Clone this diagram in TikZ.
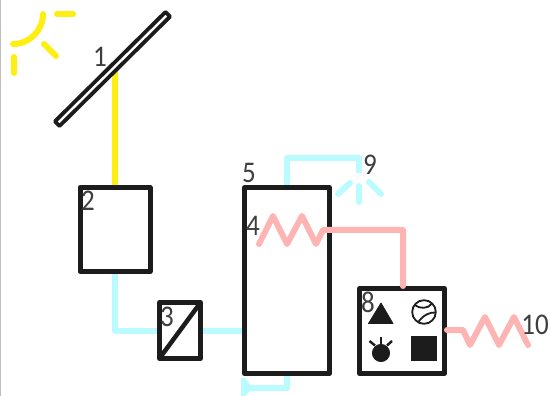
\documentclass[tikz,border=0pt]{standalone}
\usepackage{fontspec}
\setmainfont[FakeStretch=0.9]{Carlito}
\definecolor{ink}{HTML}{1C1C1C}
\definecolor{sunc}{HTML}{FFEE12}
\definecolor{cyanc}{HTML}{B9FBFF}
\definecolor{pinkc}{HTML}{FFB4B4}
\tikzset{
  box/.style={draw=ink,line width=5pt,rectangle,inner sep=0pt,line join=round},
  panelbox/.style={draw=ink,line width=3.8pt,rectangle,inner sep=0pt,line join=round},
  lab/.style={text=ink!85,font=\fontsize{30}{30}\selectfont,inner sep=0pt},
  sunline/.style={draw=sunc,line width=6pt,line cap=round},
  sunwire/.style={draw=sunc,line width=6pt},
  heatwire/.style={draw=pinkc,line width=6pt,line join=round},
  elecwire/.style={draw=cyanc,line width=6pt,line join=round},
  elecray/.style={draw=cyanc,line width=6pt,line cap=round},
  sym/.style={fill=ink,draw=ink,line width=0.8pt,line join=round},
}
\begin{document}
\begin{tikzpicture}[x=1pt,y=-1pt]
\useasboundingbox (0,0) rectangle (550,396);
\fill[white] (0,0) rectangle (550,396);
\fill[black!25] (0,0) rectangle (1,396);
% sun
\draw[sunline] (43,14) arc[start angle=0,end angle=90,radius=30];
\draw[sunline] (57,14) -- (73,14);
\draw[sunline] (44,44) -- (56,56);
\draw[sunline] (14,57) -- (14,73);
% connectors behind the panel
\coordinate (panelfoot) at (115,70);
% components
\node[box,minimum width=70pt,minimum height=84pt] (inv) at (115,229.5) {};
\draw[sunwire] (inv.north) -- (panelfoot);
\node[panelbox,fill=white,minimum width=155.5pt,minimum height=6.5pt,rotate=44.7] (panel) at (112.5,69) {};
\node[box,minimum width=41pt,minimum height=56pt] (conv) at (180,330.5) {};
\node[box,minimum width=85pt,minimum height=186pt] (tank) at (287,280.5) {};
\node[box,minimum width=85pt,minimum height=85pt] (load) at (402,331) {};
\draw[ink,line width=4.5pt] ([shift={(2,-2)}]conv.south west) -- ([shift={(-2,2)}]conv.north east);
% connectors
\draw[elecwire] (inv.south) |- (conv.west);
\draw[elecwire] (conv.east) -- (conv.east -| tank.west);
\coordinate (ventend) at (359,173);
\draw[elecwire] (tank.north) |- (ventend |- 0,158) -- (ventend);
\coordinate (drain) at (250,388);
\draw[elecwire] (tank.south) |- (drain);
\fill[cyanc] (241,378) -- (245,378) -- (253,388) -- (245,396) -- (241,396) -- cycle;
% heat element 4
\coordinate (hz) at (259,244);
\coordinate (hbend) at (403,230);
\draw[heatwire,line cap=round] (hz) -- (273,216) -- (287,244) -- (302,216) -- (316,244) -- (323,230) -- (hbend) -- (hbend |- load.north);
% heat element 10
\coordinate (rz) at (528,345);
\draw[heatwire,line cap=round] (load.east |- 0,330) -- (463,330) -- (470,345) -- (485,317) -- (499,345) -- (514,317) -- (rz);
% rays
\draw[elecray] (359,186) -- (359,202);
\draw[elecray] (338,194) -- (350,183);
\draw[elecray] (369,182) -- (381,194);
% symbols
\path[sym] (368.5,323.5) -- (393,323.5) -- (381,303) -- cycle;
\draw[ink,line width=1.8pt] (424,312) circle[radius=11.8];
\draw[ink,line width=1.8pt] (414.5,305) .. controls (420,309) and (428,309) .. (432,303.5);
\draw[ink,line width=1.8pt] (418,322.5) .. controls (423,315) and (430,312) .. (435.5,312.5);
\path[sym] (381,353) circle[radius=8.6];
\draw[ink,line width=2.4pt] (381,337) -- (381,346);
\draw[ink,line width=2.4pt] (369.5,341) -- (375,345.5);
\draw[ink,line width=2.4pt] (392,341) -- (387,345.5);
\path[sym] (411.4,336.4) rectangle (436.6,360.6);
% labels
\node[lab] (l1) at (100,57) {1};
\node[lab] (l2) at (88,201) {2};
\node[lab] (l3) at (167,317) {3};
\node[lab] (l4) at (253,226) {4};
\node[lab] (l5) at (249,173) {5};
\node[lab] (l8) at (368,302) {8};
\node[lab] (l9) at (370,165) {9};
\node[lab] (l10) at (535,325) {10};
\end{tikzpicture}
\end{document}
